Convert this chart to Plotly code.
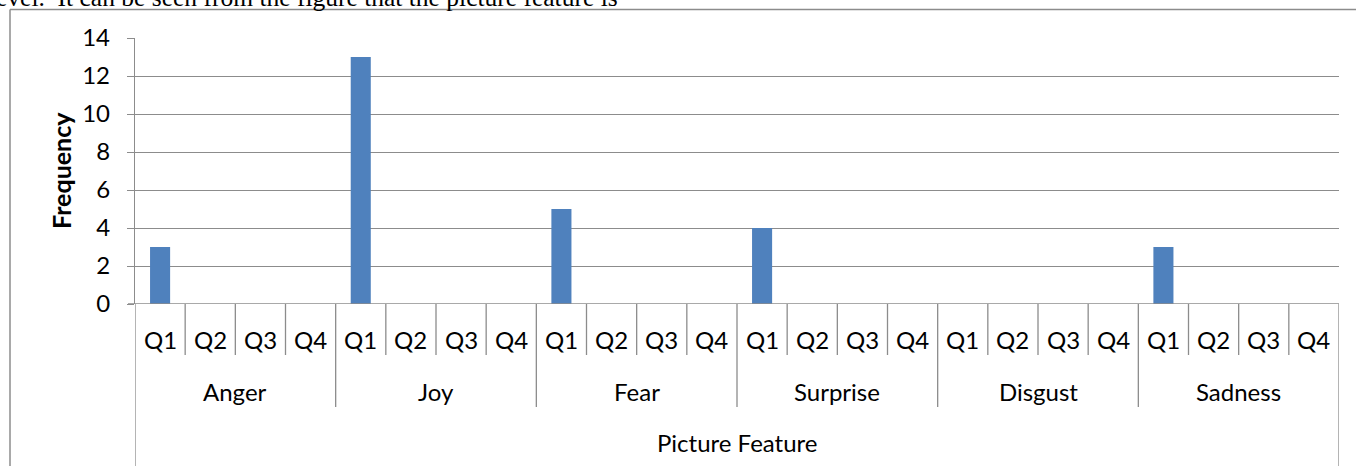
import plotly.graph_objects as go

groups = ["Anger", "Joy", "Fear", "Surprise", "Disgust", "Sadness"]
quarters = ["Q1", "Q2", "Q3", "Q4"]
values = {
    "Anger":    [3, 0, 0, 0],
    "Joy":      [13, 0, 0, 0],
    "Fear":     [5, 0, 0, 0],
    "Surprise": [4, 0, 0, 0],
    "Disgust":  [0, 0, 0, 0],
    "Sadness":  [3, 0, 0, 0],
}
y_ticks = [0, 2, 4, 6, 8, 10, 12, 14]

W, H = 1356, 466
L, R, T, B = 135, 17, 38, 162
PW, PH = W - L - R, H - T - B

def py(px):  # pixel y -> paper y
    return 1 - (px - T) / PH

def pxx(px):  # pixel x -> paper x
    return (px - L) / PW

FONT = "Lato"
FS = 24
GRID = "#8C8C8C"

xs, ys = [], []
for gi, g in enumerate(groups):
    for qi, q in enumerate(quarters):
        xs.append(gi * 4 + qi)
        ys.append(values[g][qi])

n = len(xs)
fig = go.Figure()
fig.add_trace(go.Bar(x=xs, y=ys, marker=dict(color="#4F81BD", line=dict(width=0)),
                     hoverinfo="skip"))

shapes = []
annotations = []
for i in range(n):
    annotations.append(dict(x=i, y=py(339), xref="x", yref="paper", text=quarters[i % 4],
                            showarrow=False, font=dict(family=FONT, size=FS, color="black"),
                            xanchor="center", yanchor="middle"))
for i in range(1, n):
    y1 = py(407) if i % 4 == 0 else py(355)
    shapes.append(dict(type="line", xref="x", yref="paper", x0=i - 0.5, x1=i - 0.5,
                       y0=0, y1=y1, line=dict(color=GRID, width=1.3)))
for edge in (-0.5, n - 0.5):
    shapes.append(dict(type="line", xref="x", yref="paper", x0=edge, x1=edge,
                       y0=0, y1=py(470), line=dict(color=GRID, width=1.3)))
for gi, g in enumerate(groups):
    annotations.append(dict(x=gi * 4 + 1.5, y=py(391), xref="x", yref="paper", text=g,
                            showarrow=False, font=dict(family=FONT, size=FS, color="black"),
                            xanchor="center", yanchor="middle"))
annotations.append(dict(x=0.5, y=py(442), xref="paper", yref="paper", text="Picture Feature",
                        showarrow=False, font=dict(family=FONT, size=FS, color="black"),
                        xanchor="center", yanchor="middle"))
annotations.append(dict(x=pxx(61), y=py(171), xref="paper", yref="paper", text="<b>Frequency</b>",
                        showarrow=False, textangle=-90, font=dict(family=FONT, size=25, color="black"),
                        xanchor="center", yanchor="middle"))
# clipped running text from the surrounding document
annotations.append(dict(x=pxx(-6), y=py(-2.5), xref="paper", yref="paper",
                        text="evel.  It can be seen from the figure that the picture feature is",
                        showarrow=False, font=dict(family="Liberation Serif", size=25.5, color="black"),
                        xanchor="left", yanchor="middle"))
# outer frame
shapes.append(dict(type="line", xref="paper", yref="paper", x0=pxx(10), x1=pxx(1360),
                   y0=py(9.5), y1=py(9.5), line=dict(color="#8C8C8C", width=1.5)))
shapes.append(dict(type="line", xref="paper", yref="paper", x0=pxx(10), x1=pxx(10),
                   y0=py(9.5), y1=py(470), line=dict(color="#8C8C8C", width=1.5)))
# x-axis baseline incl. small left tick
shapes.append(dict(type="line", xref="paper", yref="y", x0=pxx(128), x1=1.0,
                   y0=0, y1=0, line=dict(color=GRID, width=1.3)))

fig.update_layout(
    width=W, height=H,
    margin=dict(l=L, r=R, t=T, b=B),
    paper_bgcolor="white", plot_bgcolor="white",
    showlegend=False,
    hovermode=False,
    bargap=0.6,
    shapes=shapes,
    annotations=annotations,
    xaxis=dict(range=[-0.5, n - 0.5], showticklabels=False, showgrid=False, zeroline=False,
               showline=False, ticks=""),
    yaxis=dict(range=[0, 14], tickvals=y_ticks, ticks="outside", ticklen=7, tickcolor=GRID,
               tickwidth=1.3, showline=True, linecolor=GRID, linewidth=1.3,
               showgrid=True, gridcolor=GRID, gridwidth=1.3, zeroline=False,
               tickfont=dict(family=FONT, size=FS, color="black"), ticklabelstandoff=12),
)
fig.write_html("out.html", config={"displayModeBar": False},
               post_script="document.body.style.margin='0';")
